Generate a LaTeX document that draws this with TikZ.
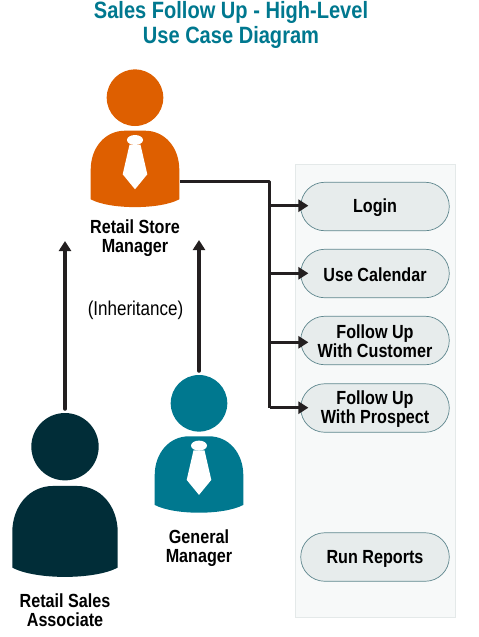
\documentclass[tikz,border=0pt]{standalone}
\usepackage{fontspec}
\setmainfont{Liberation Sans}
\newfontfamily\condfont[FakeStretch=0.85]{Liberation Sans}
\usepackage{tikz}
\usetikzlibrary{positioning,calc}
\usetikzlibrary{arrows.meta}
\definecolor{StoreOrange}{RGB}{222,95,0}
\definecolor{GmTeal}{RGB}{0,120,143}
\definecolor{AssocDark}{RGB}{1,45,56}
\definecolor{LineDark}{RGB}{35,31,32}
\definecolor{PanelGray}{RGB}{247,249,249}
\definecolor{PanelEdge}{RGB}{228,233,233}
\definecolor{PillGray}{RGB}{231,236,236}
\definecolor{PillEdge}{RGB}{95,135,142}
\tikzset{
  title/.style={text=GmTeal,align=center,inner sep=0pt,font=\condfont\bfseries\fontsize{23.6}{25}\selectfont},
  who/.style={text=black,align=center,inner sep=0pt,font=\condfont\bfseries\fontsize{19}{19}\selectfont},
  usecase/.style={draw=PillEdge,fill=PillGray,line width=0.7pt,rounded corners=24pt,
    minimum width=148.5pt,minimum height=48.5pt,inner sep=0pt,align=center,
    font=\condfont\bfseries\fontsize{19}{19}\selectfont},
  oneline/.style={usecase,text height=17pt},
  twolines/.style={usecase,text depth=0pt,text height=#1},
  link/.style={draw=LineDark,line width=3.5pt,-{Triangle[length=10pt,width=12pt]}},
  trunk/.style={draw=LineDark,line width=3.5pt},
  pics/person/.style n args={2}{code={
    \coordinate (-side) at (45,84);
    \fill[#1] (0,0) circle (28.3);
    \fill[#1] (-44.3,101.6) -- (-44.3,72) .. controls (-44.3,50) and (-30,33) .. (-10,33)
      -- (10,33) .. controls (30,33) and (44.3,50) .. (44.3,72) -- (44.3,101.6)
      .. controls (25,112) and (-25,112) .. cycle;
    \ifnum#2=1
      \fill[white] (0,42.3) ellipse (8 and 5);
      \fill[white] (-5.5,47) -- (5.5,47) -- (12.3,76.6) -- (0,91.6) -- (-12.3,76.6) -- cycle;
    \fi
  }},
}

\begin{document}
\begin{tikzpicture}[x=1pt,y=-1pt]
\useasboundingbox (0,0) rectangle (479,637);
\node[title] (heading) at (231,24.5) {Sales Follow Up - High-Level\\Use Case Diagram};

% actors
\pic (rsm) at (135,97.7) {person={StoreOrange}{1}};
\pic (gm) at (199,403.3) {person={GmTeal}{1}};
\pic[scale=1.19] (rsa) at (65,446.7) {person={AssocDark}{0}};
\node[who] (rsmlabel) at (135,238) {Retail Store\\Manager};
\node[who] (gmlabel) at (199,548.5) {General\\Manager};
\node[who] (rsalabel) at (65,610.5) {Retail Sales\\Associate};
\node[inner sep=0pt,font=\condfont\fontsize{20}{19}\selectfont] (inherit) at (135.5,310) {(Inheritance)};

% use cases
\fill[PanelGray,draw=PanelEdge,line width=0.7pt] (295,164) rectangle (455,617);
\node[oneline] (login) at (375,206.5) {Login};
\node[oneline] (calendar) at (375,273.5) {Use Calendar};
\node[twolines=34pt] (customer) at (375,340.5) {Follow Up\\With Customer};
\node[twolines=31pt] (prospect) at (375,408) {Follow Up\\With Prospect};
\node[oneline] (reports) at (375,557) {Run Reports};

% inheritance arrows
\coordinate (rsatop) at (65,409);
\coordinate (rsmleft) at (65,241);
\coordinate (gmtop) at (199,371);
\coordinate (rsmright) at (199,240);
\draw[link,line cap=round] (rsatop) -- (rsmleft);
\draw[link,line cap=round] (gmtop) -- (rsmright);

% manager to use cases
\coordinate (fork) at (269.5,181.7);
\coordinate (forkend) at (269.5,407.7);
\draw[trunk,line join=round] (rsm-side |- fork) -- (fork) -- (forkend);
\draw[link,shorten >=-8pt] (fork |- 0,205.7) -- (login.west |- 0,205.7);
\draw[link,shorten >=-8pt] (fork |- 0,273.3) -- (calendar.west |- 0,273.3);
\draw[link,shorten >=-8pt] (fork |- 0,342.3) -- (customer.west |- 0,342.3);
\draw[link,shorten >=-8pt] (forkend) -- (prospect.west |- forkend);
\end{tikzpicture}
\end{document}
